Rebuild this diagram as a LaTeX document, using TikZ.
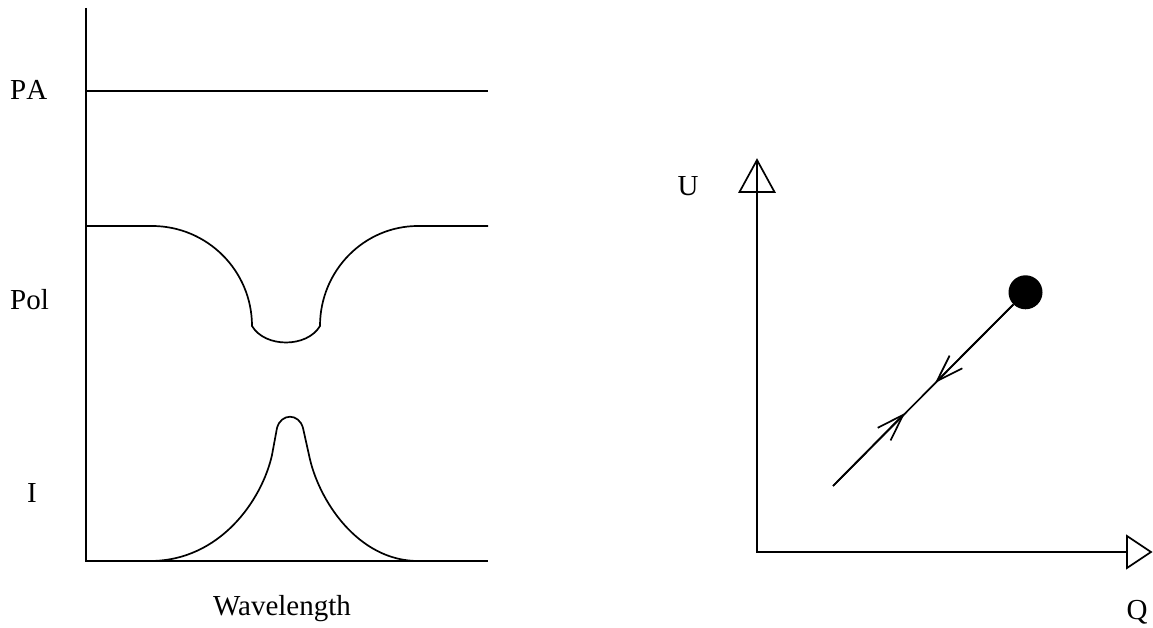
\documentclass[tikz,border=0pt]{standalone}
\usepackage{fontspec}
\setmainfont{Liberation Serif}
\usetikzlibrary{arrows.meta}
\tikzset{
  curve/.style={line width=1.7pt,draw=black},
  axis/.style={line width=1.7pt,draw=black},
  tip/.style={line width=1.7pt,draw=black,line join=miter},
  flow/.style={line width=1.7pt,-{Straight Barb[length=27pt,width=18pt,line width=1.7pt]}},
  lbl/.style={font=\fontsize{29}{34}\selectfont,inner sep=0pt}
}
\begin{document}
\begin{tikzpicture}[x=1pt,y=1pt]
\useasboundingbox (0,0) rectangle (1153,628);
% Espectro
\draw[axis] (86,620) -- (86,67) -- (488,67);
\draw[curve] (86,537) -- (488,537);
\draw[curve] (86,402) -- (152,402) arc[start angle=90,end angle=0,radius=100]
  .. controls (265,280) and (307,280) .. (320,302)
  arc[start angle=180,end angle=90,x radius=98,y radius=100] -- (488,402);
\draw[curve] (150,67) .. controls (220,67) and (262,128) .. (272,173) -- (277,200)
  .. controls (281,215) and (299,215) .. (303,200) -- (309,173)
  .. controls (318,128) and (358,67) .. (418,67);
\node[lbl,anchor=base west] (pa) at (10,528) {\addfontfeatures{Kerning=Off}PA};
\node[lbl,anchor=base west] (pol) at (10,318) {Pol};
\node[lbl,anchor=base] (int) at (32,125) {I};
\node[lbl,anchor=base] (wl) at (282,12) {Wavelength};
% Plano Q-U
\draw[axis] (757,468) -- (757,76) -- (1128,76);
\draw[tip] (739.5,436) -- (757,468) -- (774.5,436) -- cycle;
\draw[tip,fill=white] (1127,92) -- (1151,76) -- (1127,60) -- cycle;
\node[lbl,anchor=base] (u) at (688,432) {U};
\node[lbl,anchor=base] (q) at (1137,8) {Q};
\node[circle,fill=black,inner sep=0pt,minimum size=34pt] (dot) at (1025.5,335.7) {};
\coordinate (start) at (833,142);
\coordinate (down) at (935,245);
\coordinate (up) at (905,215);
\draw[curve] (start) -- (dot);
\draw[flow] (dot) -- (down);
\draw[flow] (start) -- (up);
\end{tikzpicture}
\end{document}
